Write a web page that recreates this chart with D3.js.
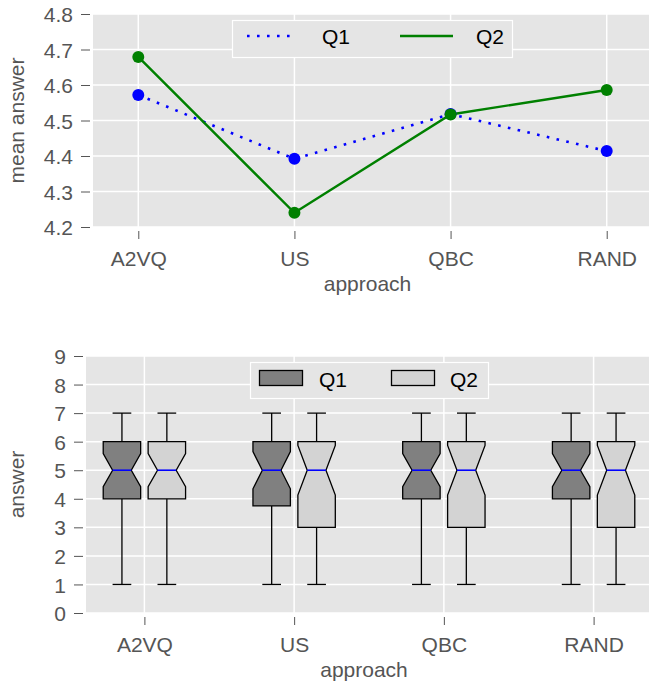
<!DOCTYPE html>
<html><head><meta charset="utf-8">
<script src="https://cdnjs.cloudflare.com/ajax/libs/d3/7.8.5/d3.min.js"></script>
<style>body{margin:0;background:#fff}svg{display:block}text{font-family:"Liberation Sans",Arial,sans-serif}</style>
</head><body><svg id="c" width="649" height="687"></svg>
<script>
const categories = ["A2VQ","US","QBC","RAND"];
const meanQ1 = [4.572, 4.392, 4.518, 4.414];
const meanQ2 = [4.679, 4.240, 4.517, 4.586];
const topTicks = [4.2,4.3,4.4,4.5,4.6,4.7,4.8];
const botTicks = [0,1,2,3,4,5,6,7,8,9];
// box stats per category: [whisker low, q1, median, q3, whisker high]
const boxQ1 = [[1,4,5,6,7],[1,3.75,5,6,7],[1,4,5,6,7],[1,4,5,6,7]];
const boxQ2 = [[1,4,5,6,7],[1,3,5,6,7],[1,3,5,6,7],[1,3,5,6,7]];
const notchQ1 = [[4.42,5.58],[4.35,5.65],[4.42,5.58],[4.42,5.58]];
const notchQ2 = [[4.42,5.58],[4.13,5.87],[4.13,5.87],[4.13,5.87]];
const seriesNames = ["Q1","Q2"];

const svg = d3.select("#c");
const FONT = 21, TC = "#555555";

function panel(x, y, ticks) {
  const g = svg.append("g");
  g.append("rect").attr("x", x.range()[0]).attr("y", y.range()[1])
    .attr("width", x.range()[1]-x.range()[0]).attr("height", y.range()[0]-y.range()[1]).attr("fill", "#e5e5e5");
  g.selectAll(".hg").data(ticks).join("line")
    .attr("x1", x.range()[0]).attr("x2", x.range()[1])
    .attr("y1", d=>y(d)).attr("y2", d=>y(d)).attr("stroke","#fff").attr("stroke-width",1.5);
  g.selectAll(".vg").data(categories.map((c,i)=>i)).join("line")
    .attr("x1", d=>x(d)).attr("x2", d=>x(d))
    .attr("y1", y.range()[0]).attr("y2", y.range()[1]).attr("stroke","#fff").attr("stroke-width",1.5);
  return g;
}

function axes(x, y, ticks, fmt, xLabelY, yLabelX, yLabel) {
  const x0 = x.range()[0], yb = y.range()[0];
  const ya = svg.append("g").attr("transform", `translate(${x0-3},0)`)
    .call(d3.axisLeft(y).tickValues(ticks).tickFormat(fmt).tickSize(9).tickPadding(8));
  ya.select(".domain").remove();
  ya.selectAll("line").attr("stroke", TC);
  ya.selectAll("text").attr("fill", TC).style("font-size", FONT+"px").attr("dy","0.36em");
  const xa = svg.append("g").attr("transform", `translate(0,${yb+4})`)
    .call(d3.axisBottom(x).tickValues(categories.map((c,i)=>i)).tickFormat(i=>categories[i]).tickSize(8).tickPadding(12));
  xa.select(".domain").remove();
  xa.selectAll("line").attr("stroke", TC);
  xa.selectAll("text").attr("fill", TC).style("font-size", FONT+"px");
  svg.append("text").attr("x", (x0+x.range()[1])/2 - 5).attr("y", xLabelY).attr("text-anchor","middle")
    .attr("fill", TC).style("font-size", FONT+"px").text("approach");
  const cy = (y.range()[0]+y.range()[1])/2;
  svg.append("text").attr("transform", `translate(${yLabelX},${cy}) rotate(-90)`).attr("text-anchor","middle")
    .attr("fill", TC).style("font-size", FONT+"px").text(yLabel);
}

// ---------- Top panel ----------
const xT = d3.scaleLinear().domain([-0.29, 3.29]).range([93, 652]);
const yT = d3.scaleLinear().domain([4.2, 4.8]).range([227, 14]);
panel(xT, yT, topTicks);
axes(xT, yT, topTicks, d3.format(".1f"), 291, 24, "mean answer");

const line = d3.line().x((d,i)=>xT(i)).y(d=>yT(d));
svg.append("path").datum(meanQ1).attr("d", line).attr("fill","none").attr("stroke","#0000ff")
  .attr("stroke-width",2.6).attr("stroke-dasharray","2.6 7.4");
svg.append("path").datum(meanQ2).attr("d", line).attr("fill","none").attr("stroke","#008000")
  .attr("stroke-width",2.4);
svg.selectAll(".m1").data(meanQ1).join("circle").attr("cx",(d,i)=>xT(i)).attr("cy",d=>yT(d)).attr("r",6).attr("fill","#0000ff");
svg.selectAll(".m2").data(meanQ2).join("circle").attr("cx",(d,i)=>xT(i)).attr("cy",d=>yT(d)).attr("r",6).attr("fill","#008000");

// top legend
const lg1 = svg.append("g");
lg1.append("rect").attr("x",232.5).attr("y",20.5).attr("width",280).attr("height",37).attr("fill","#e5e5e5").attr("stroke","#fff").attr("stroke-width",1.2);
lg1.append("line").attr("x1",247).attr("x2",293).attr("y1",36).attr("y2",36).attr("stroke","#0000ff").attr("stroke-width",2.6).attr("stroke-dasharray","2.6 7.4");
lg1.append("text").attr("x",322).attr("y",44).style("font-size",FONT+"px").attr("fill","#000").text(seriesNames[0]);
lg1.append("line").attr("x1",400).attr("x2",453).attr("y1",36).attr("y2",36).attr("stroke","#008000").attr("stroke-width",2.4);
lg1.append("text").attr("x",476).attr("y",44).style("font-size",FONT+"px").attr("fill","#000").text(seriesNames[1]);

// ---------- Bottom panel ----------
const xB = d3.scaleLinear().domain([-0.39, 3.39]).range([86, 652]);
const yB = d3.scaleLinear().domain([0, 9]).range([613, 356]);
panel(xB, yB, botTicks);
axes(xB, yB, botTicks, d3.format("d"), 677, 24, "answer");

const BW = 0.25, OFF = 0.15;
function drawBox(i, s, notch, off, fill) {
  const cx = i + off;
  const l = xB(cx - BW/2), r = xB(cx + BW/2), w = r - l, c = xB(cx);
  const capW = w/2;
  const g = svg.append("g");
  g.append("line").attr("x1",c).attr("x2",c).attr("y1",yB(s[0])).attr("y2",yB(s[1])).attr("stroke","#000").attr("stroke-width",1.3);
  g.append("line").attr("x1",c).attr("x2",c).attr("y1",yB(s[3])).attr("y2",yB(s[4])).attr("stroke","#000").attr("stroke-width",1.3);
  g.append("line").attr("x1",c-capW/2).attr("x2",c+capW/2).attr("y1",yB(s[0])).attr("y2",yB(s[0])).attr("stroke","#000").attr("stroke-width",1.3);
  g.append("line").attr("x1",c-capW/2).attr("x2",c+capW/2).attr("y1",yB(s[4])).attr("y2",yB(s[4])).attr("stroke","#000").attr("stroke-width",1.3);
  const pts = [[l,yB(s[1])],[l,yB(notch[0])],[l+w/4,yB(s[2])],[l,yB(notch[1])],[l,yB(s[3])],
    [r,yB(s[3])],[r,yB(notch[1])],[r-w/4,yB(s[2])],[r,yB(notch[0])],[r,yB(s[1])]];
  g.append("path").attr("d", d3.line()(pts)+"Z").attr("fill",fill).attr("stroke","#000").attr("stroke-width",1.3).attr("stroke-linejoin","miter");
  g.append("line").attr("x1",l+w/4).attr("x2",r-w/4).attr("y1",yB(s[2])).attr("y2",yB(s[2])).attr("stroke","#0000ff").attr("stroke-width",1.6);
}
categories.forEach((c,i)=>{
  drawBox(i, boxQ1[i], notchQ1[i], -OFF, "#808080");
  drawBox(i, boxQ2[i], notchQ2[i], OFF, "#d3d3d3");
});

// bottom legend
const lg2 = svg.append("g");
lg2.append("rect").attr("x",250.5).attr("y",362.5).attr("width",238).attr("height",36).attr("fill","#e5e5e5").attr("stroke","#fff").attr("stroke-width",1.2);
lg2.append("rect").attr("x",259.5).attr("y",370.5).attr("width",43).attr("height",15).attr("fill","#808080").attr("stroke","#000").attr("stroke-width",1.3);
lg2.append("text").attr("x",319).attr("y",387).style("font-size",FONT+"px").attr("fill","#000").text(seriesNames[0]);
lg2.append("rect").attr("x",391.5).attr("y",370.5).attr("width",43).attr("height",15).attr("fill","#d3d3d3").attr("stroke","#000").attr("stroke-width",1.3);
lg2.append("text").attr("x",450).attr("y",387).style("font-size",FONT+"px").attr("fill","#000").text(seriesNames[1]);
</script></body></html>
